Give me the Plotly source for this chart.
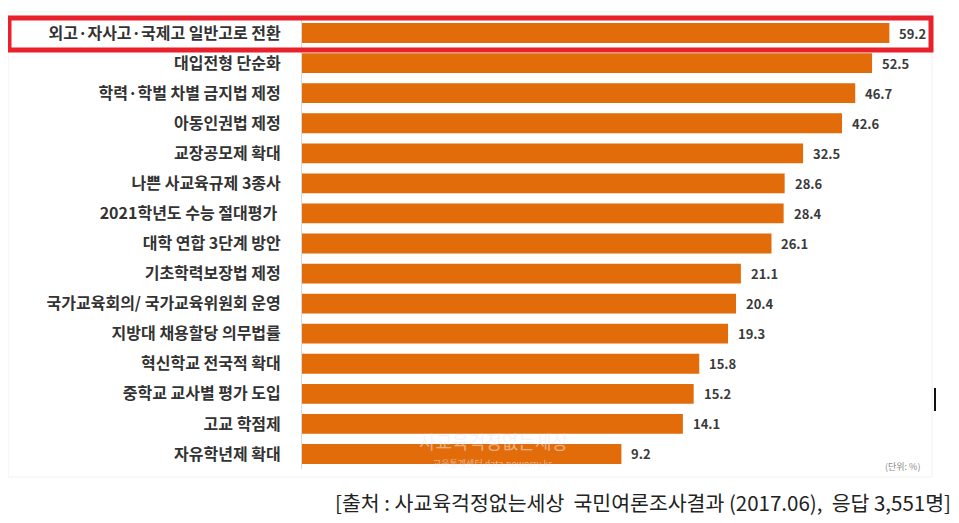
import math
import plotly.graph_objects as go

categories = [
    "외고·자사고·국제고 일반고로 전환",
    "대입전형 단순화",
    "학력·학벌 차별 금지법 제정",
    "아동인권법 제정",
    "교장공모제 확대",
    "나쁜 사교육규제 3종사",
    "2021학년도 수능 절대평가 ",
    "대학 연합 3단계 방안",
    "기초학력보장법 제정",
    "국가교육회의/ 국가교육위원회 운영",
    "지방대 채용할당 의무법률",
    "혁신학교 전국적 확대",
    "중학교 교사별 평가 도입",
    "고교 학점제",
    "자유학년제 확대",
]
values = [59.2, 52.5, 46.7, 42.6, 32.5, 28.6, 28.4, 26.1, 21.1, 20.4, 19.3, 15.8, 15.2, 14.1, 9.2]
value_labels = [f"{v:.1f}" for v in values]
source_text = "[출처 : 사교육걱정없는세상\u00a0 국민여론조사결과 (2017.06),\u00a0 응답 3,551명]"
unit_text = "(단위: %)"
watermark_main = "사교육걱정없는세상"
watermark_sub = "교육통계센터 data.noworry.kr"

OFF = 8  # default body margin of the html page
W, H = 959 - OFF, 523 - OFF
L, R, T, B = 302 - OFF, 24, 18 - OFF, 54
PW, PH = W - L - R, H - T - B


def px(x):
    return (x - OFF - L) / PW


def py(y):
    return 1 - (y - OFF - T) / PH


KFONT = "Noto Sans CJK KR"
BAR = "#E26B0A"

fig = go.Figure()
fig.add_trace(go.Bar(
    x=values, y=categories, orientation="h",
    marker=dict(color=BAR, line=dict(width=0)),
    width=0.66, hoverinfo="skip",
))

annotations = []
for c, v, t in zip(categories, values, value_labels):
    annotations.append(dict(
        x=math.log10(v), y=c, xref="x", yref="y", text=f"<b>{t}</b>",
        showarrow=False, xanchor="left", yanchor="middle", xshift=8,
        font=dict(family=KFONT, size=13, color="#3a3a3a"),
    ))

annotations += [
    dict(x=px(333), y=py(502), xref="paper", yref="paper", text=source_text,
         showarrow=False, xanchor="left", yanchor="middle",
         font=dict(family=KFONT, size=20.5, color="#222222")),
    dict(x=px(902), y=py(466), xref="paper", yref="paper", text=unit_text,
         showarrow=False, xanchor="center", yanchor="middle",
         font=dict(family=KFONT, size=9, color="#8a8a8a")),
    dict(x=px(493), y=py(441), xref="paper", yref="paper", text=watermark_main,
         showarrow=False, xanchor="center", yanchor="middle",
         font=dict(family=KFONT, size=18, color="rgba(235,235,235,0.55)")),
    dict(x=px(493), y=py(463), xref="paper", yref="paper", text=watermark_sub,
         showarrow=False, xanchor="center", yanchor="middle",
         font=dict(family=KFONT, size=9, color="rgba(235,235,235,0.55)")),
]

shapes = [
    dict(type="rect", xref="paper", yref="paper", x0=px(8), x1=px(932), y0=py(477), y1=py(12),
         line=dict(color="#f0f0f0", width=1), layer="below"),
    dict(type="rect", xref="paper", yref="paper", x0=px(9), x1=px(931), y0=py(50), y1=py(18),
         line=dict(color="#E8212B", width=5), layer="above"),
    dict(type="line", xref="paper", yref="paper", x0=px(935), x1=px(935), y0=py(388), y1=py(411),
         line=dict(color="#111111", width=2)),
]

fig.update_layout(
    width=W, height=H,
    margin=dict(l=L, r=R, t=T, b=B, pad=0),
    paper_bgcolor="white", plot_bgcolor="white",
    showlegend=False,
    annotations=annotations,
    shapes=shapes,
    xaxis=dict(type="log", range=[0, 1.91], showgrid=False, zeroline=False,
               showticklabels=False, ticks="", showline=False, fixedrange=True),
    yaxis=dict(type="category", autorange=False, range=[14.5, -0.5],
               showgrid=False, zeroline=False, ticks="",
               showline=True, linecolor="#d9d9d9", linewidth=1,
               ticklabelstandoff=17,
               tickfont=dict(family=KFONT, size=16, color="#333333", weight="bold"),
               fixedrange=True),
)

fig.write_html("out.html")
